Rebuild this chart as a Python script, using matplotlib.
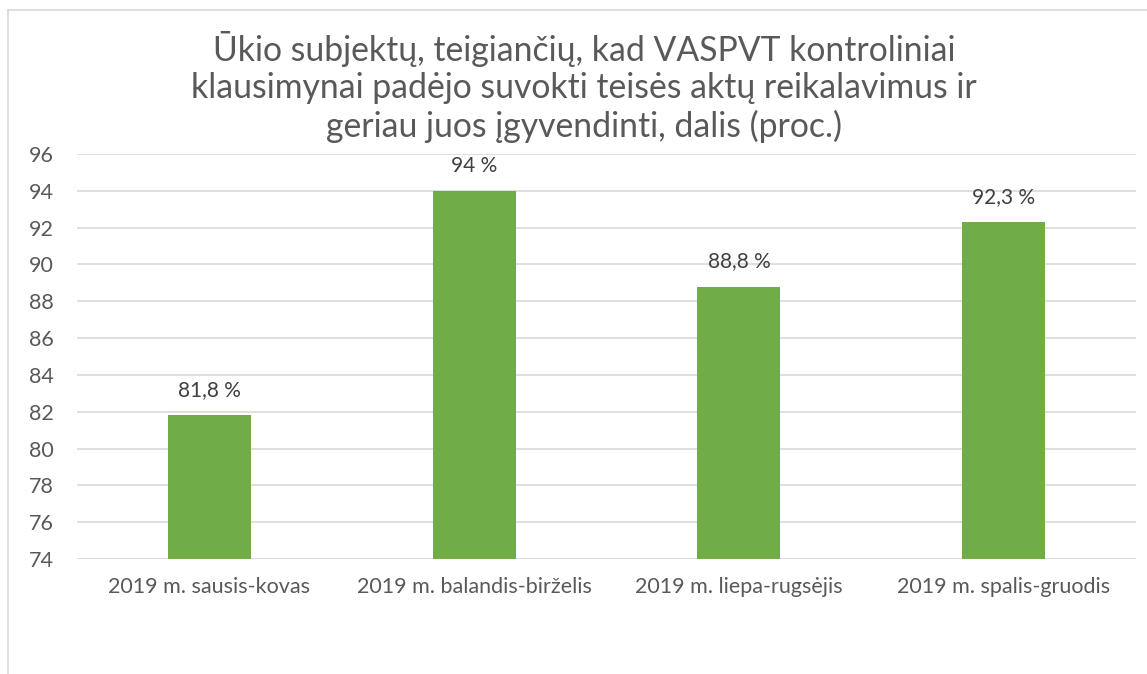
import matplotlib
matplotlib.use('Agg')
import matplotlib.pyplot as plt
from matplotlib.lines import Line2D

# Data
categories = ['2019 m. sausis-kovas', '2019 m. balandis-birželis',
              '2019 m. liepa-rugsėjis', '2019 m. spalis-gruodis']
values = [81.8, 94.0, 88.8, 92.3]
value_labels = ['81,8 %', '94 %', '88,8 %', '92,3 %']
y_ticks = list(range(74, 97, 2))
title = ('Ūkio subjektų, teigiančių, kad VASPVT kontroliniai\n'
         'klausimynai padėjo suvokti teisės aktų reikalavimus ir\n'
         'geriau juos įgyvendinti, dalis (proc.)')

plt.rcParams['font.family'] = ['Lato', 'DejaVu Sans']
text_color = '#595959'

fig = plt.figure(figsize=(11.47, 6.74), dpi=100)
ax = fig.add_axes([77 / 1147, 1 - 559 / 674, (1136 - 77) / 1147, (559 - 154) / 674])

x = range(len(categories))
ax.bar(x, [v - 74 for v in values], bottom=74, width=0.313, color='#70AD47', zorder=3)
for xi, v, lab in zip(x, values, value_labels):
    ax.annotate(lab, (xi, v), xytext=(0, 11), textcoords='offset points',
                ha='center', va='bottom', fontsize=15, color='#404040')

ax.set_xlim(-0.5, len(categories) - 0.5)
ax.set_ylim(74, 96)
ax.set_yticks(y_ticks)
ax.set_xticks(list(x))
ax.set_xticklabels(categories)
ax.grid(axis='y', color='#D9D9D9', linewidth=1.2, zorder=0)
for s in ax.spines.values():
    s.set_visible(False)
ax.tick_params(axis='both', length=0, labelsize=15.5, colors=text_color)
ax.tick_params(axis='x', pad=13)
ax.tick_params(axis='y', pad=17)

fig.text(584 / 1147, 1 - 87 / 674, title, ha='center', va='center',
         fontsize=24.3, color=text_color, linespacing=1.2)

# chart border (only left and top edges visible)
fig.add_artist(Line2D([8 / 1147, 8 / 1147], [0, 1 - 10 / 674], transform=fig.transFigure,
                      color='#D9D9D9', linewidth=1.2))
fig.add_artist(Line2D([8 / 1147, 1], [1 - 10 / 674, 1 - 10 / 674], transform=fig.transFigure,
                      color='#D9D9D9', linewidth=1.2))

fig.savefig('out.png', dpi=100)
